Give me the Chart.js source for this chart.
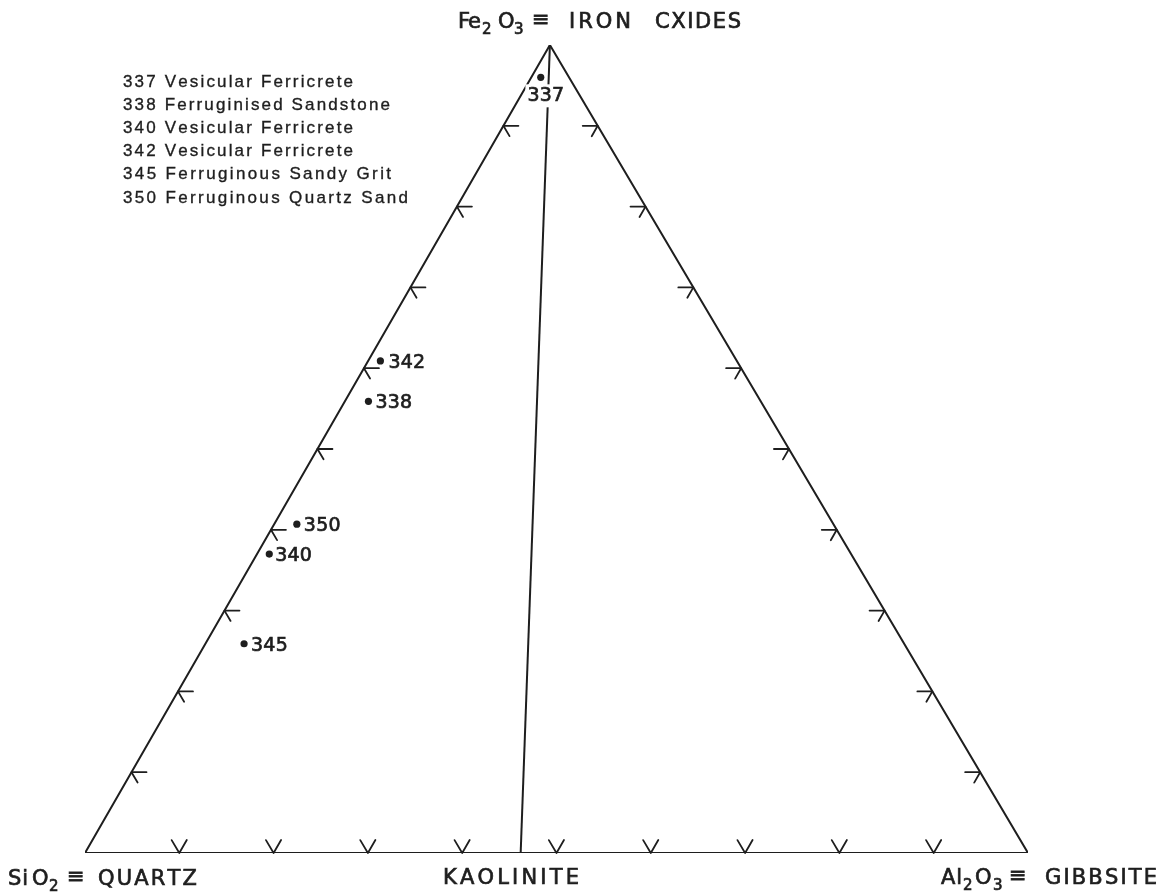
<!DOCTYPE html>
<html>
<head>
<meta charset="utf-8">
<script src="https://cdn.jsdelivr.net/npm/chart.js@4.4.1/dist/chart.umd.min.js"></script>
<style>
  html, body { margin: 0; padding: 0; background: #fff; }
  #c { display: block; }
</style>
</head>
<body>
<canvas id="c" width="1166" height="892"></canvas>
<script>
// ---- Data (weight %) ----
const sampleIds   = ["337", "342", "338", "350", "340", "345"];
const fe2o3       = [96.0, 60.9, 55.9, 40.7, 37.0, 25.9];
const al2o3       = [1.0, 1.3, 2.5, 2.4, 1.3, 4.1];
const sio2        = [3.0, 37.8, 41.6, 56.9, 61.7, 70.0];

const legendLines = [
  "337 Vesicular Ferricrete",
  "338 Ferruginised Sandstone",
  "340 Vesicular Ferricrete",
  "342 Vesicular Ferricrete",
  "345 Ferruginous Sandy Grit",
  "350 Ferruginous Quartz Sand"
];
const tickPercents = [10, 20, 30, 40, 50, 60, 70, 80, 90];
const kaoliniteAl2o3 = 46.2;  // kaolinite join on the SiO2–Al2O3 base

// ---- ternary -> plane (x in 0..1 along base, y = Fe fraction) ----
const APEX_X = 0.493;
function tern(fe, al) {
  return { x: al / 100 + (fe / 100) * APEX_X, y: fe / 100 };
}

const points = sampleIds.map((id, i) => tern(fe2o3[i], al2o3[i]));
const triangle = [tern(0, 0), tern(0, 100), tern(100, 0), tern(0, 0)];
const kaolin = [tern(100, 0), tern(0, kaoliniteAl2o3)];

// label placement (pixel offsets from point, alphabetic baseline)
const labelPlace = {
  "337": { dx: 5, dy: 24, center: true, bg: true },
  "342": { dx: 8, dy: 7 },
  "338": { dx: 7, dy: 7 },
  "350": { dx: 7, dy: 7 },
  "340": { dx: 6, dy: 7 },
  "345": { dx: 7, dy: 7 }
};

const INK = "#1e1e1e";
const LETTER = "'DejaVu Sans', sans-serif";
const LEGEND_FONT = "17px 'Liberation Sans', Arial, sans-serif";

// draw text with per-letter spacing so it spans x1..x2
function fitText(ctx, txt, x1, x2, y, bold) {
  const chars = [...txt];
  const nat = chars.reduce((s, ch) => s + ctx.measureText(ch).width, 0);
  const sp = chars.length > 1 ? (x2 - x1 - nat) / (chars.length - 1) : 0;
  let cx = x1;
  for (const ch of chars) {
    ctx.fillText(ch, cx, y);
    if (bold) ctx.strokeText(ch, cx, y);
    cx += ctx.measureText(ch).width + sp;
  }
}
function spacedText(ctx, txt, x, y, sp, bold) {
  let cx = x;
  for (const ch of txt) {
    ctx.fillText(ch, cx, y);
    if (bold) ctx.strokeText(ch, cx, y);
    cx += ctx.measureText(ch).width + sp;
  }
  return cx;
}
function spacedWidth(ctx, txt, sp) {
  let w = 0;
  for (const ch of txt) w += ctx.measureText(ch).width + sp;
  return w - sp;
}

const overlay = {
  id: "overlay",
  afterDatasetsDraw(chart) {
    const ctx = chart.ctx;
    const xs = chart.scales.x, ys = chart.scales.y;
    const px = p => ({ x: xs.getPixelForValue(p.x), y: ys.getPixelForValue(p.y) });
    const A = px(tern(100, 0)), L = px(tern(0, 0)), R = px(tern(0, 100));
    const unit = (a, b) => { const dx = b.x - a.x, dy = b.y - a.y, l = Math.hypot(dx, dy); return { x: dx / l, y: dy / l }; };
    const dRightDown = unit(A, R);
    const dLeftDown = unit(A, L);
    const upLeft = unit(R, A);
    const upRight = unit(L, A);

    ctx.save();
    ctx.strokeStyle = INK;
    ctx.lineWidth = 1.8;
    ctx.lineCap = "round";
    const arm = (p, d, len) => { ctx.moveTo(p.x, p.y); ctx.lineTo(p.x + d.x * len, p.y + d.y * len); };
    ctx.beginPath();
    tickPercents.forEach(t => {
      const pl = px(tern(t, 0));          // left edge (Al = 0)
      arm(pl, { x: 1, y: 0 }, 15);
      arm(pl, dRightDown, 12);
      const pr = px(tern(t, 100 - t));    // right edge (Si = 0)
      arm(pr, { x: -1, y: 0 }, 15);
      arm(pr, dLeftDown, 12);
      const pb = px(tern(0, t));          // base (Fe = 0)
      arm(pb, upLeft, 15);
      arm(pb, upRight, 15);
    });
    ctx.stroke();

    // point labels
    ctx.fillStyle = INK;
    ctx.strokeStyle = INK;
    ctx.lineWidth = 0.7;
    ctx.font = "19px " + LETTER;
    ctx.textBaseline = "alphabetic";
    sampleIds.forEach((id, i) => {
      const p = px(points[i]);
      const lp = labelPlace[id];
      const w = spacedWidth(ctx, id, 0.2);
      let x = p.x + lp.dx;
      const y = p.y + lp.dy;
      if (lp.center) x -= w / 2;
      if (lp.bg) {
        ctx.fillStyle = "#fff";
        ctx.fillRect(x - 2, y - 17, w + 4, 23);
        ctx.fillStyle = INK;
      }
      spacedText(ctx, id, x, y, 0.2, true);
    });

    // title and vertex labels
    const BIG = "21px " + LETTER, SUB = "15px " + LETTER;
    const put = (font, txt, x1, x2, y) => { ctx.font = font; fitText(ctx, txt, x1, x2, y, true); };

    put(BIG, "Fe", 458, 481, 28);
    put(SUB, "2", 482, 490, 34);
    put(BIG, "O", 498, 513, 28);
    put(SUB, "3", 514, 522, 34);
    put(BIG, "\u2261", 532, 546, 26);
    put(BIG, "IRON", 569, 631, 28);
    put(BIG, "CXIDES", 655, 741, 28);

    put(BIG, "Si", 8, 28, 885);
    put(BIG, "O", 32, 48, 885);
    put(SUB, "2", 49, 57, 891);
    put(BIG, "\u2261", 67, 81, 883);
    put(BIG, "QUARTZ", 98, 197, 885);

    put(BIG, "KAOLINITE", 443, 579, 884);

    put(BIG, "Al", 941, 962, 884);
    put(SUB, "2", 963, 971, 890);
    put(BIG, "O", 975, 992, 884);
    put(SUB, "3", 993, 1001, 890);
    put(BIG, "\u2261", 1009, 1023, 882);
    put(BIG, "GIBBSITE", 1045, 1157, 884);

    // legend
    ctx.font = LEGEND_FONT;
    ctx.lineWidth = 0.35;
    const legendEnds = [353, 390, 353, 353, 391, 408];
    legendLines.forEach((ln, i) => fitText(ctx, ln, 123, legendEnds[i], 86.5 + i * 23.2, true));
    ctx.restore();
  }
};

new Chart(document.getElementById("c"), {
  type: "scatter",
  data: {
    datasets: [
      { data: triangle, showLine: true, borderColor: INK, borderWidth: 2, pointRadius: 0, fill: false, tension: 0 },
      { data: kaolin, showLine: true, borderColor: INK, borderWidth: 2, pointRadius: 0, fill: false, tension: 0 },
      { data: points, showLine: false, pointRadius: 3.6, pointBackgroundColor: INK, pointBorderWidth: 0, borderColor: INK }
    ]
  },
  options: {
    responsive: false,
    animation: false,
    events: [],
    layout: { padding: { left: 85, right: 138, top: 45, bottom: 39 } },
    scales: {
      x: { type: "linear", min: 0, max: 1, display: false },
      y: { type: "linear", min: 0, max: 1, display: false }
    },
    plugins: { legend: { display: false }, tooltip: { enabled: false } }
  },
  plugins: [overlay]
});
</script>
</body>
</html>
